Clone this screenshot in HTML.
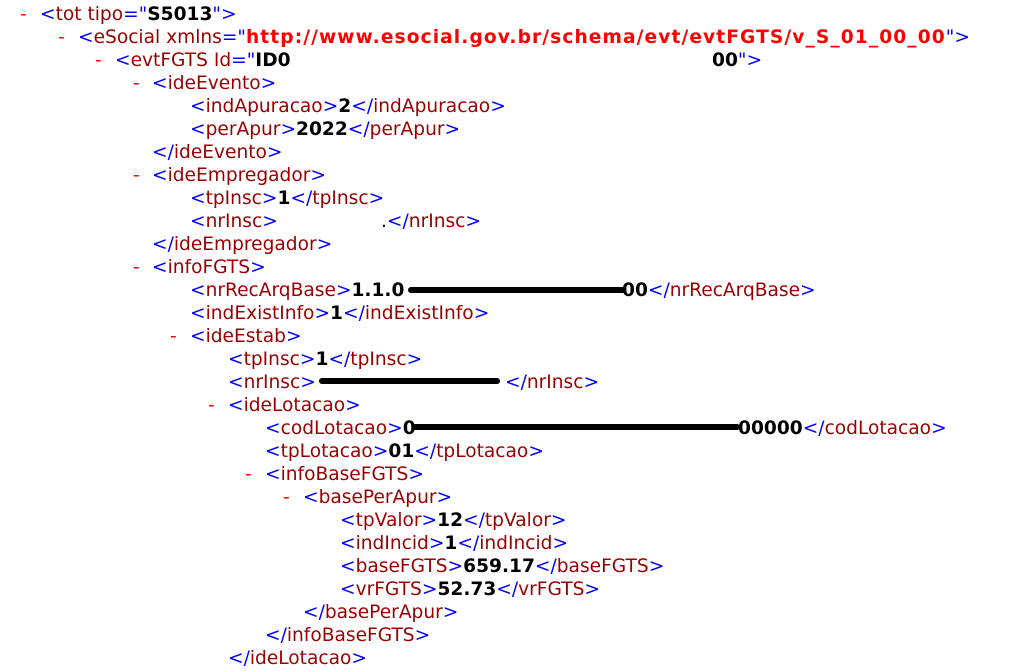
<!DOCTYPE html>
<html><head><meta charset="utf-8"><style>
body{margin:0;width:1024px;height:671px;background:#fff;overflow:hidden;position:relative;font-family:"DejaVu Sans","Liberation Sans",sans-serif;font-size:18.6px;}
.l{position:absolute;white-space:pre;line-height:23px;height:23px;}
.b{color:#0000ff}.t{color:#990000}.v{color:#000;font-weight:bold}.m{color:#ff0000}.u{color:#ff0000;font-weight:bold;letter-spacing:1.1px}
.r{position:absolute;height:6px;background:#000;border-radius:3px;}
</style></head><body>
<div class="l m" style="left:20px;top:3px">-</div>
<div class="l" style="left:40px;top:3px"><span class="b">&lt;</span><span class="t">tot tipo</span><span class="b">="</span><span class="v">S5013</span><span class="b">"&gt;</span></div>
<div class="l m" style="left:58px;top:26px">-</div>
<div class="l" style="left:78px;top:26px"><span class="b">&lt;</span><span class="t">eSocial xmlns</span><span class="b">="</span><span class="u">http://www.esocial.gov.br/schema/evt/evtFGTS/v_S_01_00_00</span><span class="b">"&gt;</span></div>
<div class="l m" style="left:95px;top:49px">-</div>
<div class="l" style="left:115px;top:49px"><span class="b">&lt;</span><span class="t">evtFGTS Id</span><span class="b">="</span><span class="v">ID0</span></div>
<div class="l" style="left:712px;top:49px"><span class="v">00</span><span class="b">"&gt;</span></div>
<div class="l m" style="left:133px;top:72px">-</div>
<div class="l" style="left:152px;top:72px"><span class="b">&lt;</span><span class="t">ideEvento</span><span class="b">&gt;</span></div>
<div class="l" style="left:190px;top:95px"><span class="b">&lt;</span><span class="t">indApuracao</span><span class="b">&gt;</span><span class="v">2</span><span class="b">&lt;/</span><span class="t">indApuracao</span><span class="b">&gt;</span></div>
<div class="l" style="left:190px;top:118px"><span class="b">&lt;</span><span class="t">perApur</span><span class="b">&gt;</span><span class="v">2022</span><span class="b">&lt;/</span><span class="t">perApur</span><span class="b">&gt;</span></div>
<div class="l" style="left:152px;top:141px"><span class="b">&lt;/</span><span class="t">ideEvento</span><span class="b">&gt;</span></div>
<div class="l m" style="left:133px;top:164px">-</div>
<div class="l" style="left:152px;top:164px"><span class="b">&lt;</span><span class="t">ideEmpregador</span><span class="b">&gt;</span></div>
<div class="l" style="left:190px;top:187px"><span class="b">&lt;</span><span class="t">tpInsc</span><span class="b">&gt;</span><span class="v">1</span><span class="b">&lt;/</span><span class="t">tpInsc</span><span class="b">&gt;</span></div>
<div class="l" style="left:190px;top:210px"><span class="b">&lt;</span><span class="t">nrInsc</span><span class="b">&gt;</span></div>
<div class="l" style="left:381px;top:210px"><span style="color:#000">.</span><span class="b">&lt;/</span><span class="t">nrInsc</span><span class="b">&gt;</span></div>
<div class="l" style="left:152px;top:233px"><span class="b">&lt;/</span><span class="t">ideEmpregador</span><span class="b">&gt;</span></div>
<div class="l m" style="left:133px;top:256px">-</div>
<div class="l" style="left:152px;top:256px"><span class="b">&lt;</span><span class="t">infoFGTS</span><span class="b">&gt;</span></div>
<div class="l" style="left:190px;top:279px"><span class="b">&lt;</span><span class="t">nrRecArqBase</span><span class="b">&gt;</span><span class="v">1.1.0</span></div>
<div class="r" style="left:408px;top:287px;width:218px"></div>
<div class="l" style="left:622px;top:279px"><span class="v">00</span><span class="b">&lt;/</span><span class="t">nrRecArqBase</span><span class="b">&gt;</span></div>
<div class="l" style="left:190px;top:302px"><span class="b">&lt;</span><span class="t">indExistInfo</span><span class="b">&gt;</span><span class="v">1</span><span class="b">&lt;/</span><span class="t">indExistInfo</span><span class="b">&gt;</span></div>
<div class="l m" style="left:170px;top:325px">-</div>
<div class="l" style="left:190px;top:325px"><span class="b">&lt;</span><span class="t">ideEstab</span><span class="b">&gt;</span></div>
<div class="l" style="left:228px;top:348px"><span class="b">&lt;</span><span class="t">tpInsc</span><span class="b">&gt;</span><span class="v">1</span><span class="b">&lt;/</span><span class="t">tpInsc</span><span class="b">&gt;</span></div>
<div class="l" style="left:228px;top:371px"><span class="b">&lt;</span><span class="t">nrInsc</span><span class="b">&gt;</span></div>
<div class="r" style="left:319px;top:378px;width:181px"></div>
<div class="l" style="left:505px;top:371px"><span class="b">&lt;/</span><span class="t">nrInsc</span><span class="b">&gt;</span></div>
<div class="l m" style="left:208px;top:394px">-</div>
<div class="l" style="left:228px;top:394px"><span class="b">&lt;</span><span class="t">ideLotacao</span><span class="b">&gt;</span></div>
<div class="l" style="left:265px;top:417px"><span class="b">&lt;</span><span class="t">codLotacao</span><span class="b">&gt;</span><span class="v">0</span></div>
<div class="r" style="left:412px;top:424px;width:328px"></div>
<div class="l" style="left:738px;top:417px"><span class="v">00000</span><span class="b">&lt;/</span><span class="t">codLotacao</span><span class="b">&gt;</span></div>
<div class="l" style="left:265px;top:440px"><span class="b">&lt;</span><span class="t">tpLotacao</span><span class="b">&gt;</span><span class="v">01</span><span class="b">&lt;/</span><span class="t">tpLotacao</span><span class="b">&gt;</span></div>
<div class="l m" style="left:245px;top:463px">-</div>
<div class="l" style="left:265px;top:463px"><span class="b">&lt;</span><span class="t">infoBaseFGTS</span><span class="b">&gt;</span></div>
<div class="l m" style="left:283px;top:486px">-</div>
<div class="l" style="left:303px;top:486px"><span class="b">&lt;</span><span class="t">basePerApur</span><span class="b">&gt;</span></div>
<div class="l" style="left:340px;top:509px"><span class="b">&lt;</span><span class="t">tpValor</span><span class="b">&gt;</span><span class="v">12</span><span class="b">&lt;/</span><span class="t">tpValor</span><span class="b">&gt;</span></div>
<div class="l" style="left:340px;top:532px"><span class="b">&lt;</span><span class="t">indIncid</span><span class="b">&gt;</span><span class="v">1</span><span class="b">&lt;/</span><span class="t">indIncid</span><span class="b">&gt;</span></div>
<div class="l" style="left:340px;top:555px"><span class="b">&lt;</span><span class="t">baseFGTS</span><span class="b">&gt;</span><span class="v">659.17</span><span class="b">&lt;/</span><span class="t">baseFGTS</span><span class="b">&gt;</span></div>
<div class="l" style="left:340px;top:578px"><span class="b">&lt;</span><span class="t">vrFGTS</span><span class="b">&gt;</span><span class="v">52.73</span><span class="b">&lt;/</span><span class="t">vrFGTS</span><span class="b">&gt;</span></div>
<div class="l" style="left:303px;top:601px"><span class="b">&lt;/</span><span class="t">basePerApur</span><span class="b">&gt;</span></div>
<div class="l" style="left:265px;top:624px"><span class="b">&lt;/</span><span class="t">infoBaseFGTS</span><span class="b">&gt;</span></div>
<div class="l" style="left:228px;top:647px"><span class="b">&lt;/</span><span class="t">ideLotacao</span><span class="b">&gt;</span></div>
</body></html>
